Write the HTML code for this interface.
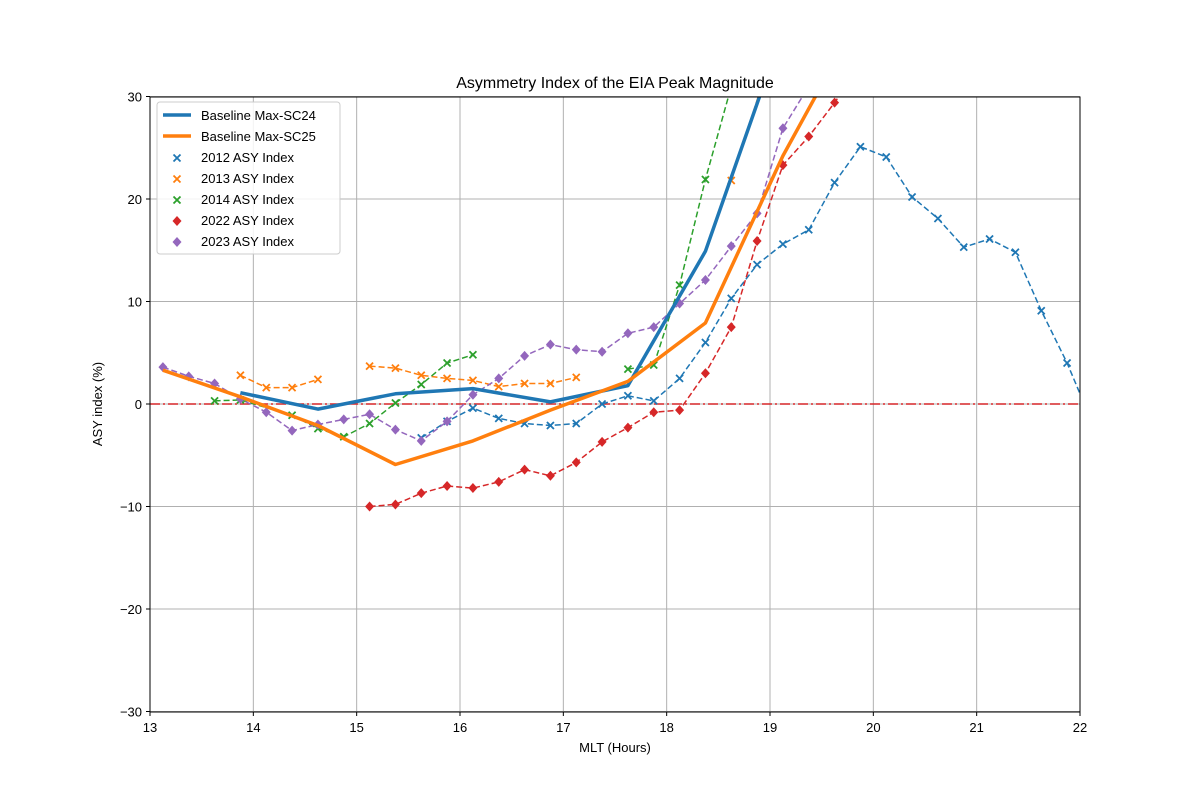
<!DOCTYPE html>
<html><head><meta charset="utf-8"><style>
body{margin:0;background:#fff;}
svg text{font-family:"Liberation Sans","DejaVu Sans",sans-serif;}
</style></head><body>
<svg id="chart" width="1200" height="800" viewBox="0 0 1200 800" xmlns="http://www.w3.org/2000/svg">
<defs><clipPath id="plotclip"><rect x="150" y="97" width="930" height="615"/></clipPath></defs>
<rect width="1200" height="800" fill="#fff"/>
<g id="grid"></g>
<g id="series" clip-path="url(#plotclip)"></g>
<rect x="150" y="97" width="930" height="615" fill="none" stroke="#000" stroke-width="1"/>
<g id="ticks"></g>
<text x="615" y="88" font-size="16" text-anchor="middle">Asymmetry Index of the EIA Peak Magnitude</text>
<text x="615" y="752" font-size="13" text-anchor="middle">MLT (Hours)</text>
<text x="102" y="404" font-size="13" text-anchor="middle" transform="rotate(-90 102 404)">ASY index (%)</text>
<g id="legend"></g>
</svg>
<script>
const xTicks=[13,14,15,16,17,18,19,20,21,22];
const yTicks=[-30,-20,-10,0,10,20,30];
const sc24X=[13.875,14.625,15.375,16.125,16.875,17.625,18.375,19.125];
const sc24Y=[1.1,-0.5,1.0,1.5,0.2,1.8,14.9,36.5];
const sc25X=[13.125,13.875,14.625,15.375,16.125,16.875,17.625,18.375,19.125,19.875];
const sc25Y=[3.3,0.7,-2.1,-5.9,-3.6,-0.6,2.2,7.9,24.2,38];
const y2012X=[15.625,15.875,16.125,16.375,16.625,16.875,17.125,17.375,17.625,17.875,18.125,18.375,18.625,18.875,19.125,19.375,19.625,19.875,20.125,20.375,20.625,20.875,21.125,21.375,21.625,21.875,22.125];
const y2012Y=[-3.3,-1.7,-0.4,-1.4,-1.9,-2.1,-1.9,0,0.8,0.3,2.5,6,10.3,13.6,15.6,17,21.6,25.1,24.1,20.2,18.1,15.3,16.1,14.8,9.1,4,-2];
const y2013X=[13.875,14.125,14.375,14.625,null,15.125,15.375,15.625,15.875,16.125,16.375,16.625,16.875,17.125,null,18.625,19.125];
const y2013Y=[2.8,1.6,1.6,2.4,null,3.7,3.5,2.8,2.5,2.3,1.7,2.0,2.0,2.6,null,21.8,37.5];
const y2014X=[13.625,13.875,14.375,14.625,14.875,15.125,15.375,15.625,15.875,16.125,null,17.625,17.875,18.125,18.375,18.625];
const y2014Y=[0.3,0.4,-1.1,-2.4,-3.2,-1.9,0.1,1.9,4.0,4.8,null,3.4,3.8,11.6,21.9,31];
const y2022X=[15.125,15.375,15.625,15.875,16.125,16.375,16.625,16.875,17.125,17.375,17.625,17.875,18.125,18.375,18.625,18.875,19.125,19.375,19.625,19.875];
const y2022Y=[-10,-9.8,-8.7,-8.0,-8.2,-7.6,-6.4,-7.0,-5.7,-3.7,-2.3,-0.8,-0.6,3.0,7.5,15.9,23.3,26.1,29.4,33];
const y2023X=[13.125,13.375,13.625,13.875,14.125,14.375,14.625,14.875,15.125,15.375,15.625,15.875,16.125,16.375,16.625,16.875,17.125,17.375,17.625,17.875,18.125,18.375,18.625,18.875,19.125,19.375];
const y2023Y=[3.6,2.7,2.0,0.5,-0.8,-2.6,-2.0,-1.5,-1.0,-2.5,-3.6,-1.7,0.9,2.5,4.7,5.8,5.3,5.1,6.9,7.5,9.8,12.1,15.4,18.6,26.9,31];

const NS="http://www.w3.org/2000/svg";
const X=v=>150+(v-13)*930/9;
const Y=v=>404-v*615/60;
function mk(tag,attrs,parent){const e=document.createElementNS(NS,tag);for(const k in attrs)e.setAttribute(k,attrs[k]);parent.appendChild(e);return e;}
const grid=document.getElementById('grid'),ticks=document.getElementById('ticks'),ser=document.getElementById('series'),leg=document.getElementById('legend');
xTicks.forEach(t=>{
  const l=mk('line',{x1:X(t),x2:X(t),y1:97,y2:712,stroke:'#b0b0b0','stroke-width':1},grid);
  
  
  mk('line',{x1:X(t),x2:X(t),y1:712,y2:716,stroke:'#000'},ticks);
  const tx=mk('text',{x:X(t),y:732,'font-size':13,'text-anchor':'middle'},ticks);tx.textContent=t;
  
  
});
yTicks.forEach(t=>{
  const l=mk('line',{x1:150,x2:1080,y1:Y(t),y2:Y(t),stroke:'#b0b0b0','stroke-width':1},grid);
  
  
  mk('line',{x1:146,x2:150,y1:Y(t),y2:Y(t),stroke:'#000'},ticks);
  const tx=mk('text',{x:142,y:Y(t)+5,'font-size':13,'text-anchor':'end'},ticks);tx.textContent=t<0?'\u2212'+(-t):t;
  
  
});
const zl=mk('line',{x1:150,x2:1080,y1:Y(0),y2:Y(0),stroke:'#d62728','stroke-width':1.6,'stroke-dasharray':'10 3 2 3'},ser);


function pathD(xs,ys){let d='',pen=false;xs.forEach((x,i)=>{if(x===null||ys[i]===null){pen=false;return;}d+=(pen?'L':'M')+X(x).toFixed(1)+' '+Y(ys[i]).toFixed(1)+' ';pen=true;});return d;}
function xMark(g,cx,cy,c){mk('path',{d:`M${cx-3.5} ${cy-3.5}L${cx+3.5} ${cy+3.5}M${cx-3.5} ${cy+3.5}L${cx+3.5} ${cy-3.5}`,stroke:c,'stroke-width':1.8},g);}
function dMark(g,cx,cy,c){mk('path',{d:`M${cx} ${cy-5}L${cx+4.5} ${cy}L${cx} ${cy+5}L${cx-4.5} ${cy}Z`,fill:c},g);}
function scatterSeries(name,xs,ys,c,m){
  const g=mk('g',{},ser);
  
  
  mk('path',{d:pathD(xs,ys),fill:'none',stroke:c,'stroke-width':1.5,'stroke-dasharray':'6 3'},g);
  xs.forEach((x,i)=>{if(x===null)return;(m==='x'?xMark:dMark)(g,X(x),Y(ys[i]),c);});
}
function lineSeries(name,xs,ys,c){
  const p=mk('path',{d:pathD(xs,ys),fill:'none',stroke:c,'stroke-width':3.5,'stroke-linejoin':'round'},ser);
  
  
}
scatterSeries('series-2012',y2012X,y2012Y,'#1f77b4','x');
scatterSeries('series-2013',y2013X,y2013Y,'#ff7f0e','x');
scatterSeries('series-2014',y2014X,y2014Y,'#2ca02c','x');
scatterSeries('series-2022',y2022X,y2022Y,'#d62728','d');
scatterSeries('series-2023',y2023X,y2023Y,'#9467bd','d');
lineSeries('baseline-sc24',sc24X,sc24Y,'#1f77b4');
lineSeries('baseline-sc25',sc25X,sc25Y,'#ff7f0e');
const lb=mk('rect',{x:157,y:102,width:183,height:152,rx:3,fill:'#fff','fill-opacity':0.85,stroke:'#ccc'},leg);


const entries=[['Baseline Max-SC24','#1f77b4','line'],['Baseline Max-SC25','#ff7f0e','line'],['2012 ASY Index','#1f77b4','x'],['2013 ASY Index','#ff7f0e','x'],['2014 ASY Index','#2ca02c','x'],['2022 ASY Index','#d62728','d'],['2023 ASY Index','#9467bd','d']];
entries.forEach((e,i)=>{
  const y=115+i*21;
  const g=mk('g',{},leg);
  
  
  if(e[2]==='line')mk('line',{x1:163,x2:191,y1:y,y2:y,stroke:e[1],'stroke-width':3.5},g);
  else if(e[2]==='x')xMark(g,177,y+1,e[1]);else dMark(g,177,y+1,e[1]);
  const t=mk('text',{x:201,y:y+5,'font-size':13},g);t.textContent=e[0];
});
</script>
</body></html>
